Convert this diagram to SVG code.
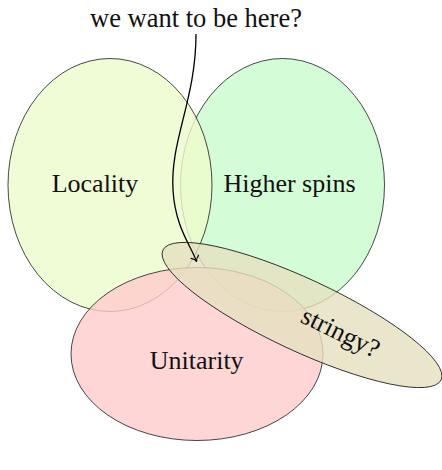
<svg xmlns="http://www.w3.org/2000/svg" width="442" height="470" viewBox="0 0 442 470">
  <style>
    .set { stroke: #1a1a1a; stroke-width: 0.8; fill-opacity: 0.8; }
    .label { font-family: "Liberation Serif", "Times New Roman", "DejaVu Serif", serif; font-size: 26px; fill: #111; text-anchor: middle; }
    .conn { fill: none; stroke: #000; stroke-width: 1.3; }
  </style>
  <defs>
    <marker id="to" markerUnits="userSpaceOnUse" markerWidth="14" markerHeight="14" refX="0" refY="0" viewBox="-7 -7 14 14" orient="auto">
      <path d="M-4.5,-4 C-3,-1.5 -1,-0.4 0.6,0 C-1,0.4 -3,1.5 -4.5,4" fill="none" stroke="#000" stroke-width="1.1" stroke-linecap="round"/>
    </marker>
  </defs>
  <rect width="442" height="470" fill="#fff"/>

  <g id="higher-spins">
    <ellipse class="set" cx="282.5" cy="185" rx="102" ry="126.5" fill="#C9FBCC"/>
    <text class="label" x="289.5" y="192">Higher spins</text>
  </g>

  <g id="locality">
    <ellipse class="set" cx="110" cy="185" rx="102" ry="126.5" fill="#ECFBCC"/>
    <text class="label" x="95" y="192">Locality</text>
  </g>

  <g id="unitarity">
    <ellipse class="set" cx="197" cy="354" rx="126" ry="86.5" fill="#FFCCCC"/>
    <text class="label" x="196.7" y="369">Unitarity</text>
  </g>

  <g id="stringy">
    <ellipse class="set" cx="0" cy="0" rx="153.5" ry="36" fill="#E5E0BF" transform="translate(302 315) rotate(25)"/>
    <text class="label" transform="translate(337 340) rotate(26)" x="0" y="0">stringy?</text>
  </g>

  <g id="question">
    <text class="label" x="196" y="26.5" style="font-size:26.5px">we want to be here?</text>
  </g>

  <g id="connectors">
    <path class="conn" d="M196,34 C196,100 170,140 173,190 C175,225 189,243 196.5,261" marker-end="url(#to)"/>
  </g>
</svg>
